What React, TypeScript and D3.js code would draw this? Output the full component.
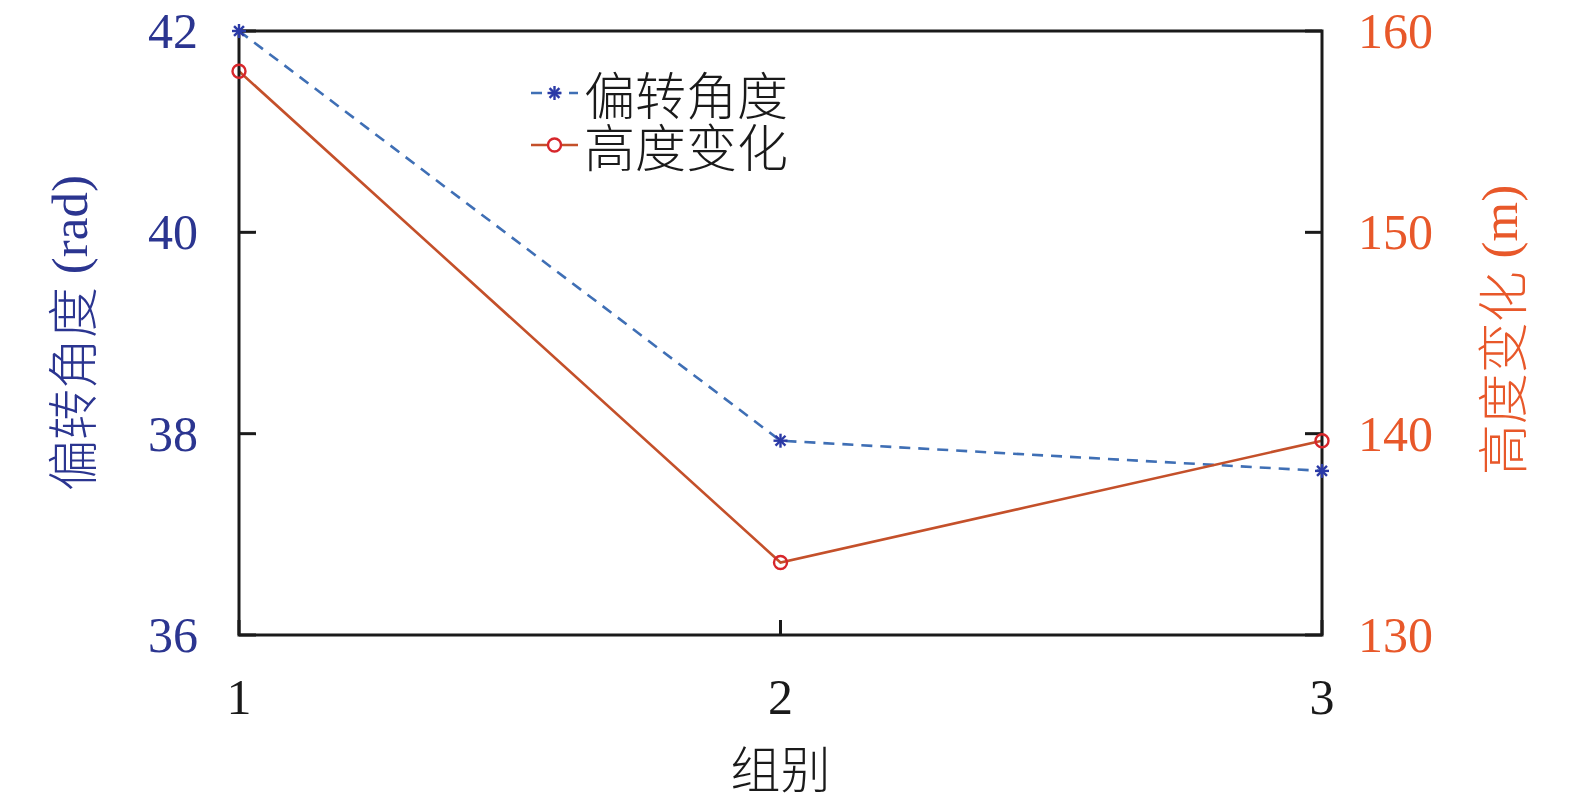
import React from "react";
import * as d3 from "d3";

const groups = [1, 2, 3];
const deflection = [42.0, 37.93, 37.63];
const heightChange = [158.0, 133.6, 139.65];
const leftTicks = [36, 38, 40, 42];
const rightTicks = [130, 140, 150, 160];
const xTicks = [1, 2, 3];
const leftTitleCJK = "偏转角度";
const leftTitleUnit = " (rad)";
const rightTitleCJK = "高度变化";
const rightTitleUnit = " (m)";
const xTitle = "组别";
const legendLabels = ["偏转角度", "高度变化"];

const W = 1575;
const H = 799;
const M = { left: 239, right: 1322, top: 31, bottom: 635 };

const NAVY = "#2b3590";
const ORANGE = "#e8582a";
const BLUE_LINE = "#3f6fb5";
const BLUE_MARK = "#2b3aa6";
const RED_LINE = "#c4502a";
const RED_MARK = "#d7262b";
const SERIF = "'Liberation Serif', 'Times New Roman', serif";
const CJK = "'Noto Sans CJK SC', sans-serif";

function Star({ x, y, r }: { x: number; y: number; r: number }) {
  const d = r * 0.7071;
  return (
    <g stroke={BLUE_MARK} strokeWidth={2.4}>
      <line x1={x - r} y1={y} x2={x + r} y2={y} />
      <line x1={x} y1={y - r} x2={x} y2={y + r} />
      <line x1={x - d} y1={y - d} x2={x + d} y2={y + d} />
      <line x1={x - d} y1={y + d} x2={x + d} y2={y - d} />
    </g>
  );
}

export default function App() {
  const x = d3.scaleLinear().domain([1, 3]).range([M.left, M.right]);
  const yL = d3.scaleLinear().domain([36, 42]).range([M.bottom, M.top]);
  const yR = d3.scaleLinear().domain([130, 160]).range([M.bottom, M.top]);

  const blueLine = d3
    .line<number>()
    .x((_, i) => x(groups[i]))
    .y((d) => yL(d))(deflection) as string;
  const redLine = d3
    .line<number>()
    .x((_, i) => x(groups[i]))
    .y((d) => yR(d))(heightChange) as string;

  const tickLen = 17;
  const midY = (M.top + M.bottom) / 2;
  const legX0 = 531;
  const legX1 = 578;
  const legTextX = 584;
  const legY = [93, 145];

  return (
    <svg
      width={W}
      height={H}
      style={{ position: "absolute", left: 0, top: 0, background: "#fff" }}
      fontFamily={SERIF}
    >
      <rect x={0} y={0} width={W} height={H} fill="#fff" />
      {/* data lines */}
      <path d={blueLine} fill="none" stroke={BLUE_LINE} strokeWidth={2.6} strokeDasharray="11,8" />
      <path d={redLine} fill="none" stroke={RED_LINE} strokeWidth={2.6} />

      {/* frame */}
      <rect
        x={M.left}
        y={M.top}
        width={M.right - M.left}
        height={M.bottom - M.top}
        fill="none"
        stroke="#1a1a1a"
        strokeWidth={3}
      />
      {/* left ticks */}
      {leftTicks.map((t) => (
        <g key={"l" + t}>
          <line x1={M.left} x2={M.left + tickLen} y1={yL(t)} y2={yL(t)} stroke="#1a1a1a" strokeWidth={3} />
          <text x={198} y={yL(t)} textAnchor="end" dominantBaseline="central" fontSize={50} fill={NAVY}>
            {t}
          </text>
        </g>
      ))}
      {/* right ticks */}
      {rightTicks.map((t) => (
        <g key={"r" + t}>
          <line x1={M.right - tickLen} x2={M.right} y1={yR(t)} y2={yR(t)} stroke="#1a1a1a" strokeWidth={3} />
          <text x={1358} y={yR(t)} textAnchor="start" dominantBaseline="central" fontSize={50} fill={ORANGE}>
            {t}
          </text>
        </g>
      ))}
      {/* x ticks */}
      {xTicks.map((t) => (
        <g key={"x" + t}>
          <line x1={x(t)} x2={x(t)} y1={M.bottom} y2={M.bottom - 15} stroke="#1a1a1a" strokeWidth={3} />
          <text x={x(t)} y={697} textAnchor="middle" dominantBaseline="central" fontSize={50} fill="#1a1a1a">
            {t}
          </text>
        </g>
      ))}

      {/* markers */}
      {deflection.map((v, i) => (
        <Star key={"s" + i} x={x(groups[i])} y={yL(v)} r={7} />
      ))}
      {heightChange.map((v, i) => (
        <circle
          key={"c" + i}
          cx={x(groups[i])}
          cy={yR(v)}
          r={6.5}
          fill="none"
          stroke={RED_MARK}
          strokeWidth={2.4}
        />
      ))}

      {/* axis titles */}
      <text
        transform={`translate(70,${midY}) rotate(-90)`}
        textAnchor="middle"
        dominantBaseline="central"
        fontSize={51}
        fill={NAVY}
      >
        <tspan fontFamily={CJK} fontWeight={300}>{leftTitleCJK}</tspan>
        <tspan fontFamily={SERIF} fontWeight={400}>{leftTitleUnit}</tspan>
      </text>
      <text
        transform={`translate(1500,${midY - 3}) rotate(-90)`}
        textAnchor="middle"
        dominantBaseline="central"
        fontSize={51}
        fill={ORANGE}
      >
        <tspan fontFamily={CJK} fontWeight={300}>{rightTitleCJK}</tspan>
        <tspan fontFamily={SERIF} fontWeight={400}>{rightTitleUnit}</tspan>
      </text>
      <text x={x(2)} y={766} textAnchor="middle" dominantBaseline="central" fontSize={50} fontFamily={CJK} fontWeight={300} fill="#1a1a1a">
        {xTitle}
      </text>

      {/* legend */}
      <line x1={legX0} x2={legX1} y1={legY[0]} y2={legY[0]} stroke={BLUE_LINE} strokeWidth={2.6} strokeDasharray="11,8" />
      <Star x={(legX0 + legX1) / 2} y={legY[0]} r={7} />
      <text x={legTextX} y={legY[0]} dominantBaseline="central" fontSize={51} fontFamily={CJK} fontWeight={300} fill="#1a1a1a">
        {legendLabels[0]}
      </text>
      <line x1={legX0} x2={legX1} y1={legY[1]} y2={legY[1]} stroke={RED_LINE} strokeWidth={2.6} />
      <circle cx={(legX0 + legX1) / 2} cy={legY[1]} r={6.5} fill="#fff" stroke={RED_MARK} strokeWidth={2.4} />
      <text x={legTextX} y={legY[1]} dominantBaseline="central" fontSize={51} fontFamily={CJK} fontWeight={300} fill="#1a1a1a">
        {legendLabels[1]}
      </text>
    </svg>
  );
}
